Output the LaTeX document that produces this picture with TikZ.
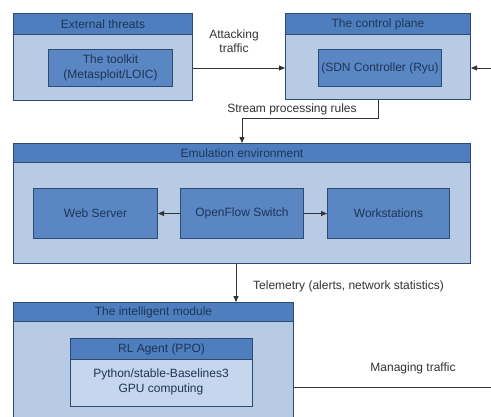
\documentclass[tikz,border=0pt]{standalone}
\usepackage{fontspec}
\setmainfont{Liberation Sans}
\usetikzlibrary{arrows.meta}
\definecolor{outerbg}{HTML}{B8CBE4}
\definecolor{hdr}{HTML}{4F7EBF}
\definecolor{innerc}{HTML}{5A86C3}
\definecolor{edgec}{HTML}{2E4A73}
\definecolor{txtc}{HTML}{1E3556}
\definecolor{bodybg}{HTML}{C6D6EC}
\definecolor{linec}{HTML}{333333}
\begin{document}
\begin{tikzpicture}[x=1pt,y=-1pt,
  font=\fontsize{12}{14.5}\selectfont,
  box/.style={draw=edgec, line width=1pt, anchor=north west, inner sep=0pt},
  outer/.style={box, fill=outerbg},
  header/.style={box, fill=hdr, text=txtc},
  comp/.style={box, fill=innerc, text=txtc, align=center},
  body/.style={box, fill=bodybg, text=txtc, align=center},
  conn/.style={draw=linec, line width=0.9pt},
  arr/.style={conn, -{Triangle[length=6pt,width=5pt]}},
  lbl/.style={text=linec, align=center, inner sep=0pt}]
\useasboundingbox[fill=white] (0,0) rectangle (491,416);

% External threats
\node[outer, minimum width=179pt, minimum height=87pt] (ext) at (13,13) {};
\node[header, minimum width=179pt, minimum height=21pt] (exth) at (13,13) {External threats};
\node[comp, minimum width=124pt, minimum height=37pt] (toolkit) at (48,49) {The toolkit\\(Metasploit/LOIC)};

% Control plane
\node[outer, minimum width=185pt, minimum height=86pt] (ctrl) at (285,13) {};
\node[header, minimum width=185pt, minimum height=21pt] (ctrlh) at (285,13) {The control plane};
\node[comp, minimum width=123pt, minimum height=37pt] (sdn) at (318,49) {(SDN Controller (Ryu)};

% Emulation environment
\node[outer, minimum width=457pt, minimum height=120pt] (emu) at (13,143) {};
\node[header, minimum width=457pt, minimum height=19pt] (emuh) at (13,143) {Emulation environment};
\node[comp, minimum width=124pt, minimum height=50pt] (web) at (33,188) {Web Server};
\node[comp, minimum width=123pt, minimum height=50pt] (ofs) at (180,188) {OpenFlow Switch};
\node[comp, minimum width=122pt, minimum height=50pt] (ws) at (327,188) {Workstations};

% Intelligent module
\node[outer, minimum width=280pt, minimum height=140pt] (intel) at (13,302) {};
\node[header, minimum width=280pt, minimum height=19pt] (intelh) at (13,302) {The intelligent module};
\node[body, minimum width=182pt, minimum height=68pt] (rlbody) at (70,338) {};
\node[header, minimum width=182pt, minimum height=21pt] (rlh) at (70,338) {RL Agent (PPO)};
\node[text=txtc, align=center, inner sep=0pt] (rltext) at (161,382) {Python/stable-Baselines3\\GPU computing};

% Connectors
\draw[arr] (ext.east |- 0,68) -- (ctrl.west |- 0,68);
\node[lbl] (lblatt) at (234,41) {Attacking\\traffic};

\draw[arr] (ctrl.south -| 378,0) -- (378,118) -- (242,118) -- (emu.north -| 242,0);
\node[lbl] (lblstream) at (292,109) {Stream processing rules};

\draw[arr] (ofs) -- (web);
\draw[arr] (ofs) -- (ws);

\draw[arr] (emu.south -| 236,0) -- (intel.north -| 236,0);
\node[lbl, anchor=west] (lbltel) at (253,286) {Telemetry (alerts, network statistics)};

\draw[arr] (intel.east |- 0,387) -- (520,387) -- (520,68) -- (ctrl.east |- 0,68);
\node[lbl] (lblman) at (413,368) {Managing traffic};
\end{tikzpicture}
\end{document}
